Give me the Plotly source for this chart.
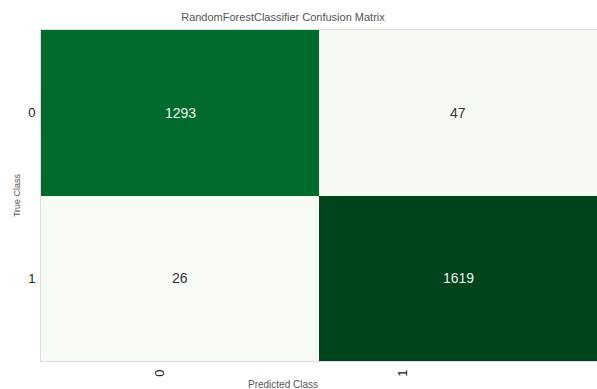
import plotly.graph_objects as go

classes = ["0", "1"]
matrix = [[1293, 47], [26, 1619]]
title = "RandomForestClassifier Confusion Matrix"

greens = [[0.0, "#f7fcf5"], [0.04, "#f4faf1"], [0.125, "#e5f5e0"], [0.25, "#c7e9c0"],
          [0.375, "#a1d99b"], [0.5, "#74c476"], [0.625, "#41ab5d"], [0.7, "#238b45"],
          [0.8, "#006b2d"], [1.0, "#00441b"]]

zmax = max(max(r) for r in matrix)
text_colors = [["#eef5ee" if v > zmax / 2 else "#333333" for v in row] for row in matrix]

fig = go.Figure()
fig.add_trace(go.Heatmap(
    z=matrix, x=[0, 1], y=[0, 1], colorscale=greens, zmin=0, zmax=zmax,
    showscale=False, hoverinfo="skip", xgap=0, ygap=0,
))
for i, row in enumerate(matrix):
    for j, v in enumerate(row):
        fig.add_annotation(x=j, y=i, xref="x", yref="y", text=str(v), showarrow=False,
                           font=dict(size=14, color=text_colors[i][j],
                                     family="Liberation Sans, Arial, sans-serif"))

# tick-label axis (overlay) to match label placement of the reference
fig.add_trace(go.Scatter(x=[0, 1], y=[0, 1], xaxis="x2", mode="markers",
                         marker=dict(opacity=0), hoverinfo="skip", showlegend=False))

fig.update_layout(
    width=597, height=389,
    margin=dict(l=41, r=0, t=30, b=28),
    paper_bgcolor="white", plot_bgcolor="white",
    font=dict(family="Liberation Sans, Arial, sans-serif", color="#444444"),
    title=dict(text=title, x=0.474, xanchor="center", y=0.955, yanchor="middle",
               xref="container", yref="container",
               font=dict(size=11, color="#555555")),
    xaxis=dict(range=[-0.5, 1.5], showticklabels=False, ticks="", showgrid=False,
               zeroline=False, showline=True, linecolor="#dddddd", mirror=True,
               fixedrange=True),
    xaxis2=dict(overlaying="x", range=[-0.49, 1.80], tickvals=[0, 1], ticktext=classes,
                tickangle=-90, side="bottom", showgrid=False, zeroline=False,
                tickfont=dict(size=13, color="#222222"), ticks="", showline=False,
                ticklabelstandoff=5, anchor="y"),
    yaxis=dict(range=[1.5, -0.5], tickvals=[0, 1], ticktext=classes, showgrid=False,
               zeroline=False, showline=True, linecolor="#dddddd", mirror=True,
               tickfont=dict(size=13, color="#222222"), ticks="", ticklen=0,
               ticklabelstandoff=2,
               title=dict(text="True Class", font=dict(size=9, color="#555555"), standoff=6)),
)
fig.add_annotation(text="Predicted Class", xref="paper", yref="paper",
                   x=(283 - 41) / 556, y=-0.072, yanchor="middle", showarrow=False,
                   font=dict(size=10, color="#555555"))
fig.write_html("out.html")
